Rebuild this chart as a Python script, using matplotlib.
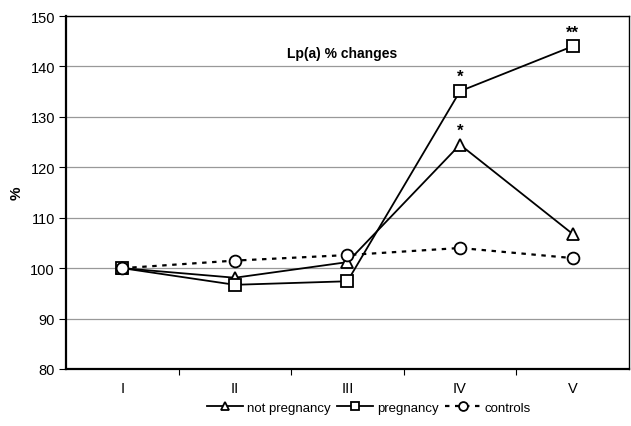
import matplotlib
matplotlib.use("Agg")
import matplotlib.pyplot as plt
import numpy as np

plt.rcParams["font.family"] = ["Liberation Sans", "DejaVu Sans"]

# Lp(a) % changes per stage
STAGES = ["I", "II", "III", "IV", "V"]
NOT_PREGNANCY = [100.0, 98.1, 101.2, 124.5, 106.8]
PREGNANCY = [100.0, 96.7, 97.4, 135.1, 144.0]
CONTROLS = [100.0, 101.5, 102.6, 104.0, 102.0]
# significance marks: (series, stage index, label)
STARS = [(PREGNANCY, 3, "*"), (NOT_PREGNANCY, 3, "*"), (PREGNANCY, 4, "**")]

fig = plt.figure(figsize=(6.31, 4.27), dpi=100)
ax = fig.add_axes([0.1046, 0.1335, 0.892, 0.8265])

x = np.arange(1, len(STAGES) + 1)
mk = dict(markerfacecolor="white", markeredgecolor="black", markeredgewidth=1.3, color="black")

ax.plot(x, NOT_PREGNANCY, marker="^", markersize=8.5, linewidth=1.3,
        label="not pregnancy", **mk)
ax.plot(x, PREGNANCY, marker="s", markersize=8.5, linewidth=1.3,
        label="pregnancy", **mk)
ax.plot(x, CONTROLS, marker="o", markersize=8.5, linewidth=1.6,
        linestyle=(0, (2, 2.5)), label="controls", **mk)

for series, i, s in STARS:
    ax.text(x[i], series[i] + 1.4, s, ha="center", va="bottom",
            fontsize=12, fontweight="bold")

ax.text(0.49, 0.895, "Lp(a) % changes", transform=ax.transAxes,
        ha="center", va="center", fontsize=10, fontweight="bold")

ax.set_xlim(0.5, len(STAGES) + 0.5)
ax.set_ylim(80, 150)
ax.set_yticks(np.arange(80, 151, 10))
ax.set_xticks(x)
ax.set_xticklabels(STAGES)
ax.set_xticks(np.arange(1.5, len(STAGES) + 0.5, 1), minor=True)
ax.tick_params(axis="x", which="major", length=0, labelsize=10.5, pad=9)
ax.tick_params(axis="x", which="minor", length=4, width=0.8, direction="out")
ax.tick_params(axis="y", length=5, width=0.8, labelsize=10.5, pad=3)
fig.text(17 / 631, 1 - 193 / 427, "%", rotation=90, ha="center", va="center",
         fontsize=11, fontweight="bold")

ax.yaxis.grid(True, color="#999999", linewidth=0.9)
ax.set_axisbelow(True)
for side in ["left", "bottom"]:
    ax.spines[side].set_linewidth(1.6)
for side in ["top", "right"]:
    ax.spines[side].set_linewidth(1.0)

leg = fig.legend(loc="center", bbox_to_anchor=(0.585, 0.043), ncol=3,
                 frameon=False, fontsize=9.5, handlelength=2.7,
                 handletextpad=0.3, columnspacing=0.5, markerscale=0.75)

fig.savefig("out.png", dpi=100)
